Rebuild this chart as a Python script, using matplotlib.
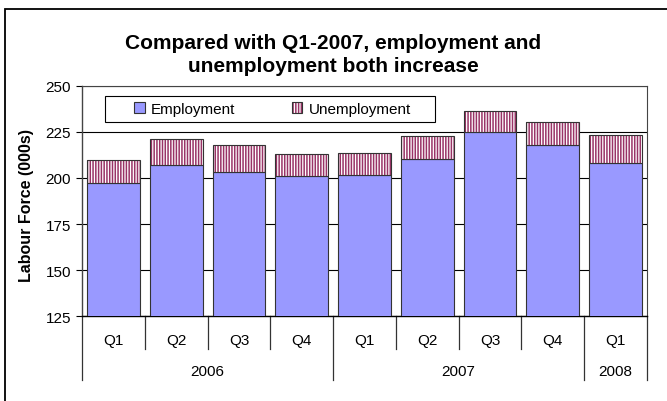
import matplotlib
matplotlib.use("Agg")
import matplotlib.pyplot as plt
from matplotlib.patches import Rectangle, Patch
import matplotlib.transforms as mtransforms

quarters = ["Q1", "Q2", "Q3", "Q4", "Q1", "Q2", "Q3", "Q4", "Q1"]
years = ["2006", "2007", "2008"]
year_counts = [4, 4, 1]
employment = [197, 207, 203, 201, 201.5, 210.5, 225, 218, 208]
total = [209.5, 221, 218, 213, 213.5, 222.5, 236.5, 230.5, 223.5]
unemployment = [t - e for t, e in zip(total, employment)]
title = "Compared with Q1-2007, employment and\nunemployment both increase"
ylabel = "Labour Force (000s)"
yticks = [125, 150, 175, 200, 225, 250]

plt.rcParams['font.family'] = ['Liberation Sans', 'DejaVu Sans']
plt.rcParams['hatch.linewidth'] = 1.1

W, H = 667, 402
fig = plt.figure(figsize=(W / 100, H / 100), dpi=100)
fig.patch.set_facecolor('white')

# outer border
fig.add_artist(Rectangle((5 / W, -0.05), 1.2, (H - 10) / H + 0.05, transform=fig.transFigure,
                         fill=False, edgecolor='black', linewidth=1.3))

left, right, top, bottom = 82, 647, 86.7, 317.3
ax = fig.add_axes([left / W, (H - bottom) / H, (right - left) / W, (bottom - top) / H])

x = list(range(len(quarters)))
HATCH = '||||||'
ax.bar(x, employment, width=0.84, bottom=0, color='#9999FF', edgecolor='#333333',
       linewidth=0.8, zorder=3)
ax.bar(x, unemployment, width=0.84, bottom=employment, color='white', edgecolor='#993366',
       linewidth=0, hatch=HATCH, zorder=3)
ax.bar(x, unemployment, width=0.84, bottom=employment, fill=False, edgecolor='#333333',
       linewidth=0.8, zorder=3.5)

ax.set_xlim(-0.5, len(quarters) - 0.5)
ax.set_ylim(125, 250)
ax.set_yticks(yticks)
ax.tick_params(axis='y', direction='out', length=4, width=0.8, pad=4, labelsize=11)
ax.set_xticks([])
ax.yaxis.grid(True, color='black', linewidth=0.8, zorder=0)
for s in ['top', 'right']:
    ax.spines[s].set_color('#444444')
    ax.spines[s].set_linewidth(0.8)
ax.spines['left'].set_color('#444444')
ax.spines['left'].set_linewidth(1.0)
ax.spines['bottom'].set_color('black')
ax.spines['bottom'].set_linewidth(1.0)

trans = mtransforms.blended_transform_factory(ax.transData, ax.transAxes)
ph = bottom - top
pw = right - left
q_end = -(350 - bottom) / ph
y_end = -(381 - bottom) / ph
q_lab = -(341 - bottom) / ph
y_lab = -(372 - bottom) / ph

year_bounds = [0]
for c in year_counts:
    year_bounds.append(year_bounds[-1] + c)
for b in range(len(quarters) + 1):
    end = y_end if b in year_bounds else q_end
    ax.plot([b - 0.5, b - 0.5], [0, end], transform=trans, color='#333333',
            linewidth=0.9, clip_on=False)
for i, q in enumerate(quarters):
    ax.text(i, q_lab, q, transform=trans, ha='center', va='center', fontsize=11)
for j, yv in enumerate(years):
    c = (year_bounds[j] + year_bounds[j + 1] - 1) / 2
    ax.text(c, y_lab, yv, transform=trans, ha='center', va='center', fontsize=11)

fig.text(333 / W, 1 - 55 / H, title, ha='center', va='center', fontsize=15,
         fontweight='bold', linespacing=1.3)
fig.text(26 / W, 1 - 206 / H, ylabel, ha='center', va='center', rotation=90,
         fontsize=11.5, fontweight='bold')

# legend frame
ax.add_patch(Rectangle(((105 - left) / pw, 1 - (123 - top) / ph), (435 - 105) / pw, 26 / ph,
                       transform=ax.transAxes, facecolor='white', edgecolor='black',
                       linewidth=0.8, zorder=5, clip_on=False))
h_emp = Patch(facecolor='#9999FF', edgecolor='#333333', linewidth=0.8)
h_un1 = Patch(facecolor='white', edgecolor='#993366', linewidth=0, hatch=HATCH)
h_un2 = Patch(fill=False, edgecolor='#333333', linewidth=0.8)
leg = ax.legend([h_emp, (h_un1, h_un2)], ['Employment', 'Unemployment'],
                loc='center left', bbox_to_anchor=((134 - left) / pw, 1 - (110 - top) / ph),
                ncol=2, frameon=False, fontsize=11,
                handlelength=0.7, handleheight=0.7, columnspacing=3.7, handletextpad=0.4,
                borderpad=0, borderaxespad=0)
leg.set_zorder(6)

fig.savefig('out.png', dpi=100)
